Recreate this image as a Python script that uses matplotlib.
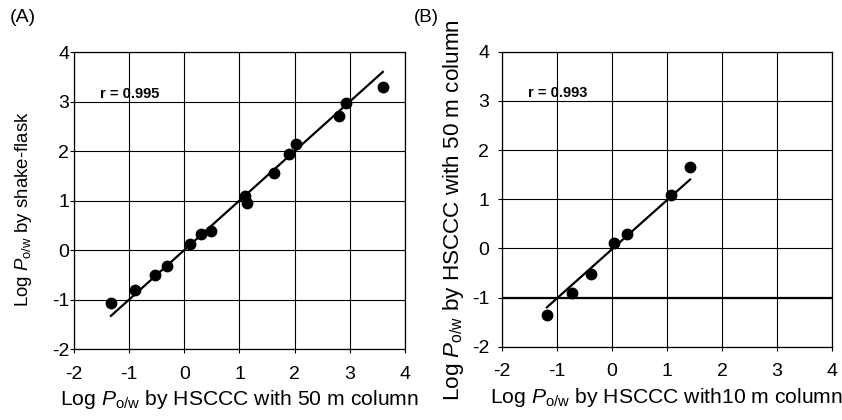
import numpy as np
import matplotlib
matplotlib.use('Agg')
import matplotlib.pyplot as plt

###################################################################
## data

## (A) HSCCC 50 m column vs shake-flask
xa = [-1.33, -0.89, -0.53, -0.32, 0.10, 0.31, 0.49, 1.10, 1.14, 1.62, 1.89, 2.02, 2.80, 2.94, 3.60]
ya = [-1.07, -0.80, -0.50, -0.33, 0.12, 0.32, 0.39, 1.10, 0.95, 1.55, 1.94, 2.14, 2.70, 2.97, 3.30]
fit_a = [1.0, 0.0]          ## slope, intercept of drawn regression line
ra = 'r = 0.995'

## (B) HSCCC 10 m column vs HSCCC 50 m column
xb = [-1.18, -0.73, -0.38, 0.04, 0.27, 1.07, 1.42]
yb = [-1.36, -0.90, -0.53, 0.10, 0.30, 1.08, 1.65]
fit_b = [1.0, -0.02]
rb = 'r = 0.993'

ticks = [-2, -1, 0, 1, 2, 3, 4]

###################################################################
## style
plt.rcParams['font.family'] = ['Liberation Sans', 'DejaVu Sans']
plt.rcParams['mathtext.fontset'] = 'custom'
plt.rcParams['mathtext.rm'] = 'Liberation Sans'
plt.rcParams['mathtext.it'] = 'Liberation Sans:italic'
plt.rcParams['axes.unicode_minus'] = False

P = r'$\mathit{P}_{\mathrm{o/w}}$'

fig = plt.figure(figsize=(8.42, 4.2), dpi=100)
axA = fig.add_axes([0.0879, 0.169, 0.393, 0.707])
axB = fig.add_axes([0.5958, 0.1745, 0.3926, 0.7025])


def panel(ax, x, y, fit, rtxt, ypad):
    ax.set_xlim(-2, 4)
    ax.set_ylim(-2, 4)
    ax.set_xticks(ticks)
    ax.set_yticks(ticks)
    ax.grid(True, color='black', lw=0.8)
    ax.set_axisbelow(True)
    for s in ax.spines.values():
        s.set_linewidth(0.9)
    ax.tick_params(labelsize=14, length=3, width=0.8)
    ax.tick_params(axis='x', pad=9)
    ax.tick_params(axis='y', pad=ypad)
    ax.plot(x, y, 'ko', ms=7.5, zorder=3)
    xx = np.array([min(x), max(x)])
    ax.plot(xx, fit[0] * xx + fit[1], 'k-', lw=1.6, zorder=3)
    ax.text(-1.53, 3.15, rtxt, fontsize=10.5, fontweight='bold', va='center')


panel(axA, xa, ya, fit_a, ra, 0.5)
panel(axB, xb, yb, fit_b, rb, 6)
axB.axhline(-1, color='black', lw=1.6)

axA.set_xlabel('Log ' + P + ' by HSCCC with 50 m column', fontsize=15.2, labelpad=4)
axA.set_ylabel('Log ' + P + ' by shake-flask', fontsize=13.4)
axB.set_xlabel('Log ' + P + ' by HSCCC with10 m column', fontsize=15.2, labelpad=4)
axB.set_ylabel('Log ' + P + ' by HSCCC with 50 m column', fontsize=16.2)
axA.yaxis.set_label_coords(-0.12, 0.47)
axB.yaxis.set_label_coords(-0.108, 0.465)

fig.text(0.012, 0.958, '(A)', fontsize=14, va='center')
fig.text(0.492, 0.958, '(B)', fontsize=13.5, va='center')

fig.savefig('out.png', dpi=100)
